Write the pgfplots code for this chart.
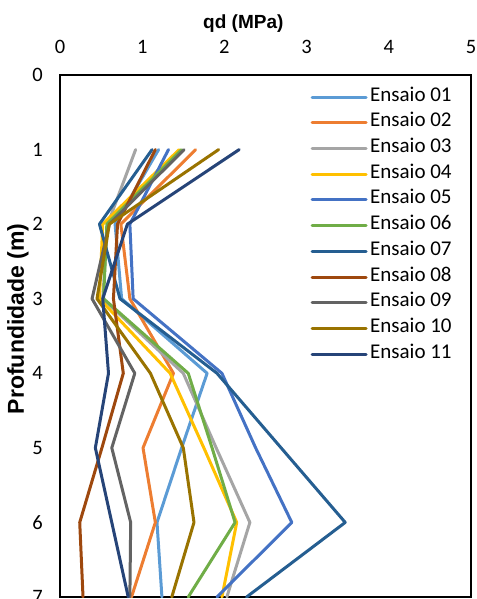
\documentclass[border=0pt]{standalone}
\usepackage{fontspec}
\setmainfont{Carlito}
\newfontfamily\lab{Liberation Sans}
\usepackage{pgfplots}
\pgfplotsset{compat=1.18}
\definecolor{c01}{HTML}{5B9BD5}
\definecolor{c02}{HTML}{ED7D31}
\definecolor{c03}{HTML}{A5A5A5}
\definecolor{c04}{HTML}{FFC000}
\definecolor{c05}{HTML}{4472C4}
\definecolor{c06}{HTML}{70AD47}
\definecolor{c07}{HTML}{255E91}
\definecolor{c08}{HTML}{9E480E}
\definecolor{c09}{HTML}{636363}
\definecolor{c10}{HTML}{997300}
\definecolor{c11}{HTML}{264478}
\begin{document}
\begin{tikzpicture}
\useasboundingbox (-265.5bp,-263bp) rectangle (211.5bp,336bp);
\begin{axis}[
  at={(0,0)}, anchor=center,
  scale only axis, width=411bp, height=522bp,
  xmin=0, xmax=5, ymin=0, ymax=7,
  y dir=reverse,
  xtick={0,1,2,3,4,5}, ytick={0,1,2,3,4,5,6,7},
  xticklabel pos=top,
  major tick length=0pt,
  axis line style={line width=1.2bp, black},
  /pgf/number format/assume math mode=true,
  tick label style={font=\fontsize{20.5bp}{24bp}\selectfont},
  xticklabel style={anchor=base, inner sep=0pt, yshift=22bp},
  yticklabel style={anchor=east, inner sep=0pt, xshift=-17bp},
  xlabel={qd (MPa)}, ylabel={Profundidade (m)},
  xlabel style={at={(axis cs:2.23,-0.617)}, anchor=base, inner sep=0pt, font=\lab\bfseries\fontsize{19bp}{22bp}\selectfont},
  ylabel style={at={(axis cs:-0.511,3.27)}, anchor=center, inner sep=0pt, font=\lab\bfseries\fontsize{23bp}{26bp}\selectfont},
  every axis plot/.append style={line width=3bp, line join=round, line cap=round},
  legend cell align=left,
  legend style={at={(axis cs:3.047,0.174)}, anchor=north west, draw=none, fill=none, inner sep=0pt,
    font=\fontsize{21bp}{24bp}\selectfont, row sep=7.7bp,
    nodes={inner xsep=2.5bp, inner ysep=0pt, text height=13bp, text depth=5bp}},
  legend image code/.code={\draw[#1] (0bp,0bp) -- (54bp,0bp);},
]
\addplot[c01] coordinates {(1.20,1)(0.67,2)(0.75,3)(1.79,4)(1.48,5)(1.18,6)(1.24,7)};
\addlegendentry{Ensaio 01}
\addplot[c02] coordinates {(1.65,1)(0.74,2)(0.85,3)(1.38,4)(1.01,5)(1.16,6)(0.87,7)};
\addlegendentry{Ensaio 02}
\addplot[c03] coordinates {(0.92,1)(0.58,2)(0.52,3)(1.50,4)(1.90,5)(2.31,6)(2.03,7)};
\addlegendentry{Ensaio 03}
\addplot[c04] coordinates {(1.45,1)(0.52,2)(0.48,3)(1.34,4)(1.75,5)(2.15,6)(1.97,7)};
\addlegendentry{Ensaio 04}
\addplot[c05] coordinates {(1.32,1)(0.85,2)(0.89,3)(1.97,4)(2.38,5)(2.82,6)(1.91,7)};
\addlegendentry{Ensaio 05}
\addplot[c06] coordinates {(1.48,1)(0.57,2)(0.53,3)(1.56,4)(1.85,5)(2.13,6)(1.56,7)};
\addlegendentry{Ensaio 06}
\addplot[c07] coordinates {(1.12,1)(0.48,2)(0.73,3)(1.91,4)(2.69,5)(3.47,6)(2.27,7)};
\addlegendentry{Ensaio 07}
\addplot[c08] coordinates {(1.16,1)(0.70,2)(0.65,3)(0.77,4)(0.51,5)(0.24,6)(0.28,7)};
\addlegendentry{Ensaio 08}
\addplot[c09] coordinates {(1.51,1)(0.60,2)(0.39,3)(0.91,4)(0.63,5)(0.86,6)(0.85,7)};
\addlegendentry{Ensaio 09}
\addplot[c10] coordinates {(1.93,1)(0.60,2)(0.45,3)(1.10,4)(1.50,5)(1.63,6)(1.36,7)};
\addlegendentry{Ensaio 10}
\addplot[c11] coordinates {(2.18,1)(0.82,2)(0.52,3)(0.59,4)(0.43,5)(0.63,6)(0.83,7)};
\addlegendentry{Ensaio 11}
\end{axis}
\end{tikzpicture}
\end{document}
